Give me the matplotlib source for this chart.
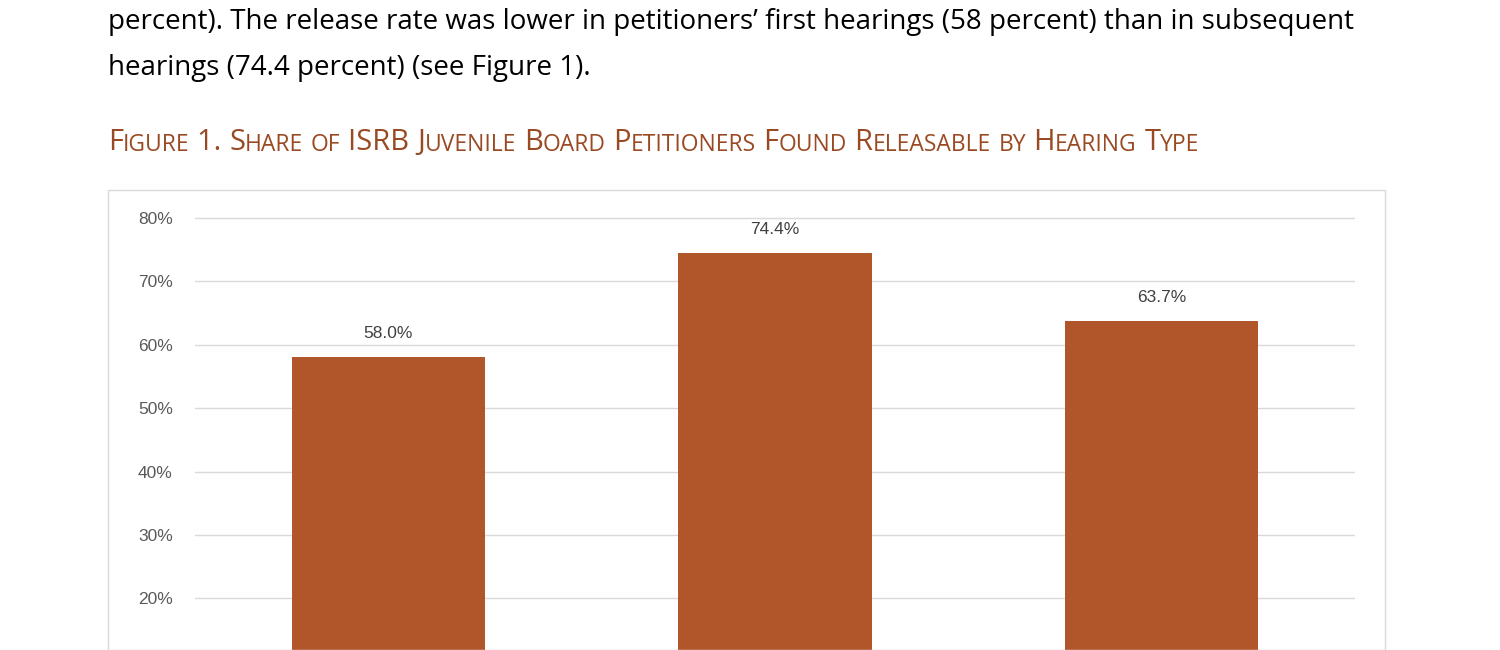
import matplotlib.pyplot as plt
from matplotlib.patches import Rectangle
from matplotlib.text import Annotation

categories = ["First hearing", "Subsequent hearing", "All hearings"]
values = [58.0, 74.4, 63.7]
yticks = [20, 30, 40, 50, 60, 70, 80]

para = ["percent). The release rate was lower in petitioners\u2019 first hearings (58 percent) than in subsequent",
        "hearings (74.4 percent) (see Figure 1)."]
title = "Figure 1. Share of ISRB Juvenile Board Petitioners Found Releasable by Hearing Type"

W, H = 1500, 650
fig = plt.figure(figsize=(15, 6.5), dpi=100)
plt.rcParams['font.family'] = ['Open Sans', 'DejaVu Sans']

# paragraph text
fig.text(108 / W, 1 - 22 / H, para[0], fontsize=20, va='center', color='black')
fig.text(108 / W, 1 - 68 / H, para[1], fontsize=20, va='center', color='black')

# small caps title built from chained pieces
tcol = '#9A4A22'
x0, y0 = 108 / W, 1 - 150 / H
prev = None
words = title.split(' ')
for wi, word in enumerate(words):
    chunks = []
    w = word + (' ' if wi < len(words) - 1 else '')
    for ch in w:
        big = ch.isupper() or ch.isdigit() or not ch.isalpha()
        if chunks and chunks[-1][1] == big:
            chunks[-1][0] += ch
        else:
            chunks.append([ch, big])
    for s, big in chunks:
        txt = s if big else s.upper()
        size = 21 if big else 16.5
        if prev is None:
            prev = fig.text(x0, y0, txt, fontsize=size, color=tcol, va='baseline')
        else:
            a = Annotation(txt, xy=(1, 0), xycoords=prev, fontsize=size,
                           color=tcol, va='bottom', ha='left', annotation_clip=False)
            fig.add_artist(a)
            prev = a

# chart frame
fig.patches.append(Rectangle((108 / W, 0), (1385 - 108) / W, (H - 190) / H,
                             transform=fig.transFigure, fill=False,
                             edgecolor='#D9D9D9', linewidth=1))

ax = fig.add_axes([195 / W, 0, (1355 - 195) / W, (H - 200) / H])
ppu = 6.4
ax.set_ylim(20 - (650 - 598) / ppu, 80 + (218 - 200) / ppu)
ax.set_xlim(-0.5, 2.5)
ax.set_yticks(yticks)
ax.set_yticklabels([f"{t}%" for t in yticks], color='#595959', fontsize=12.5,
                   family=['Liberation Sans'])
ax.tick_params(axis='y', length=0, pad=16)
ax.tick_params(axis='x', length=0, labelbottom=False)
ax.set_xticks(range(len(categories)))
ax.set_xticklabels(categories)
ax.grid(axis='y', color='#D9D9D9', linewidth=1)
ax.set_axisbelow(True)
for s in ax.spines.values():
    s.set_visible(False)

ax.bar(range(len(categories)), values, width=0.5, color='#B0562A', zorder=2)
for i, v in enumerate(values):
    ax.text(i, v + 3.8, f"{v:.1f}%", ha='center', va='center', fontsize=12.5,
            color='#404040', family=['Liberation Sans'])

fig.savefig('out.png', dpi=100)
